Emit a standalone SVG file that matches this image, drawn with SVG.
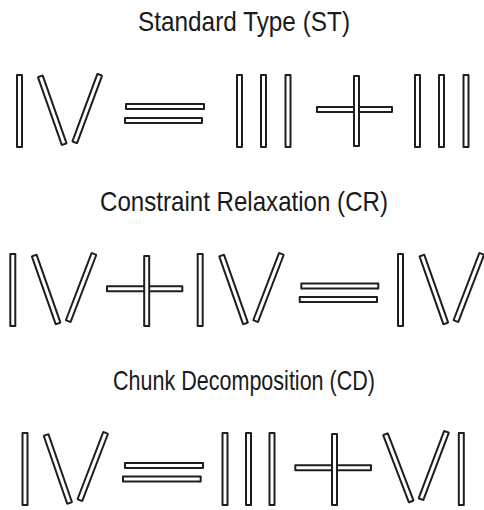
<svg xmlns="http://www.w3.org/2000/svg" width="484" height="510" viewBox="0 0 484 510">
<style>
.s{fill:#ffffff;stroke:#1e1e1e;stroke-width:2;stroke-linejoin:round}
.t{font-family:"Liberation Sans",Arial,sans-serif;font-size:28px;fill:#1a1a1a;text-anchor:middle}
</style>
<defs>
<rect id="stk" class="s" x="-2.5" y="-36" width="5" height="72" rx="0.5"/>
</defs>
<rect width="484" height="510" fill="#ffffff"/>

<text class="t" x="244" y="30.5" textLength="212" lengthAdjust="spacingAndGlyphs">Standard Type (ST)</text>
<text class="t" x="244" y="210.5" textLength="288" lengthAdjust="spacingAndGlyphs">Constraint Relaxation (CR)</text>
<text class="t" x="244" y="390" textLength="262" lengthAdjust="spacingAndGlyphs">Chunk Decomposition (CD)</text>

<g id="row-st">
  <g id="st-lhs-IV">
    <rect class="s" x="17" y="75" width="5" height="72"/>
    <use href="#stk" transform="translate(52.25,110.25) rotate(-19.4)"/>
    <use href="#stk" transform="translate(87.25,108.5) rotate(20.3)"/>
  </g>
  <g id="st-equals">
    <rect class="s" x="126" y="104" width="78" height="5"/>
    <rect class="s" x="125" y="118" width="77" height="5"/>
  </g>
  <g id="st-III-a">
    <rect class="s" x="237" y="75" width="5" height="72"/>
    <rect class="s" x="261" y="75" width="5" height="72"/>
    <rect class="s" x="285.5" y="75" width="5" height="72"/>
  </g>
  <g id="st-plus">
    <rect class="s" x="317" y="107" width="75" height="5"/>
    <rect class="s" x="354" y="76" width="5" height="70"/>
  </g>
  <g id="st-III-b">
    <rect class="s" x="415" y="75" width="5" height="72"/>
    <rect class="s" x="439" y="75" width="5" height="72"/>
    <rect class="s" x="463.5" y="75" width="5" height="72"/>
  </g>
</g>

<g id="row-cr">
  <g id="cr-IV-a">
    <rect class="s" x="10.3" y="254" width="5" height="72"/>
    <use href="#stk" transform="translate(46.15,289.5) rotate(-19.4)"/>
    <use href="#stk" transform="translate(81.1,287.5) rotate(21)"/>
  </g>
  <g id="cr-plus">
    <rect class="s" x="107" y="286.3" width="75.3" height="5"/>
    <rect class="s" x="144.2" y="256" width="5" height="70"/>
  </g>
  <g id="cr-IV-b">
    <rect class="s" x="197.7" y="254" width="5" height="72"/>
    <use href="#stk" transform="translate(233.55,289.5) rotate(-19.4)"/>
    <use href="#stk" transform="translate(268.5,287.5) rotate(21)"/>
  </g>
  <g id="cr-equals">
    <rect class="s" x="301.3" y="283.5" width="77" height="5"/>
    <rect class="s" x="299.7" y="297" width="77.3" height="5"/>
  </g>
  <g id="cr-IV-c">
    <rect class="s" x="398" y="254" width="5" height="72"/>
    <use href="#stk" transform="translate(433.85,289.5) rotate(-19.4)"/>
    <use href="#stk" transform="translate(468.8,287.5) rotate(21)"/>
  </g>
</g>

<g id="row-cd">
  <g id="cd-IV">
    <rect class="s" x="22.5" y="433" width="5" height="72"/>
    <use href="#stk" transform="translate(57.85,469) rotate(-19.1)"/>
    <use href="#stk" transform="translate(92.75,466.5) rotate(21)"/>
  </g>
  <g id="cd-equals">
    <rect class="s" x="125" y="463" width="78" height="5"/>
    <rect class="s" x="123" y="476.5" width="77.7" height="5"/>
  </g>
  <g id="cd-III">
    <rect class="s" x="222.5" y="433" width="5" height="72"/>
    <rect class="s" x="246" y="433" width="5" height="72"/>
    <rect class="s" x="269.5" y="433" width="5" height="72"/>
  </g>
  <g id="cd-plus">
    <rect class="s" x="295.3" y="465.2" width="75.7" height="5"/>
    <rect class="s" x="332" y="434" width="5" height="71"/>
  </g>
  <g id="cd-VI">
    <use href="#stk" transform="translate(398.35,467.85) rotate(-20.9)"/>
    <use href="#stk" transform="translate(433.75,465.5) rotate(20.8)"/>
    <rect class="s" x="458.8" y="433" width="5" height="72"/>
  </g>
</g>
</svg>
